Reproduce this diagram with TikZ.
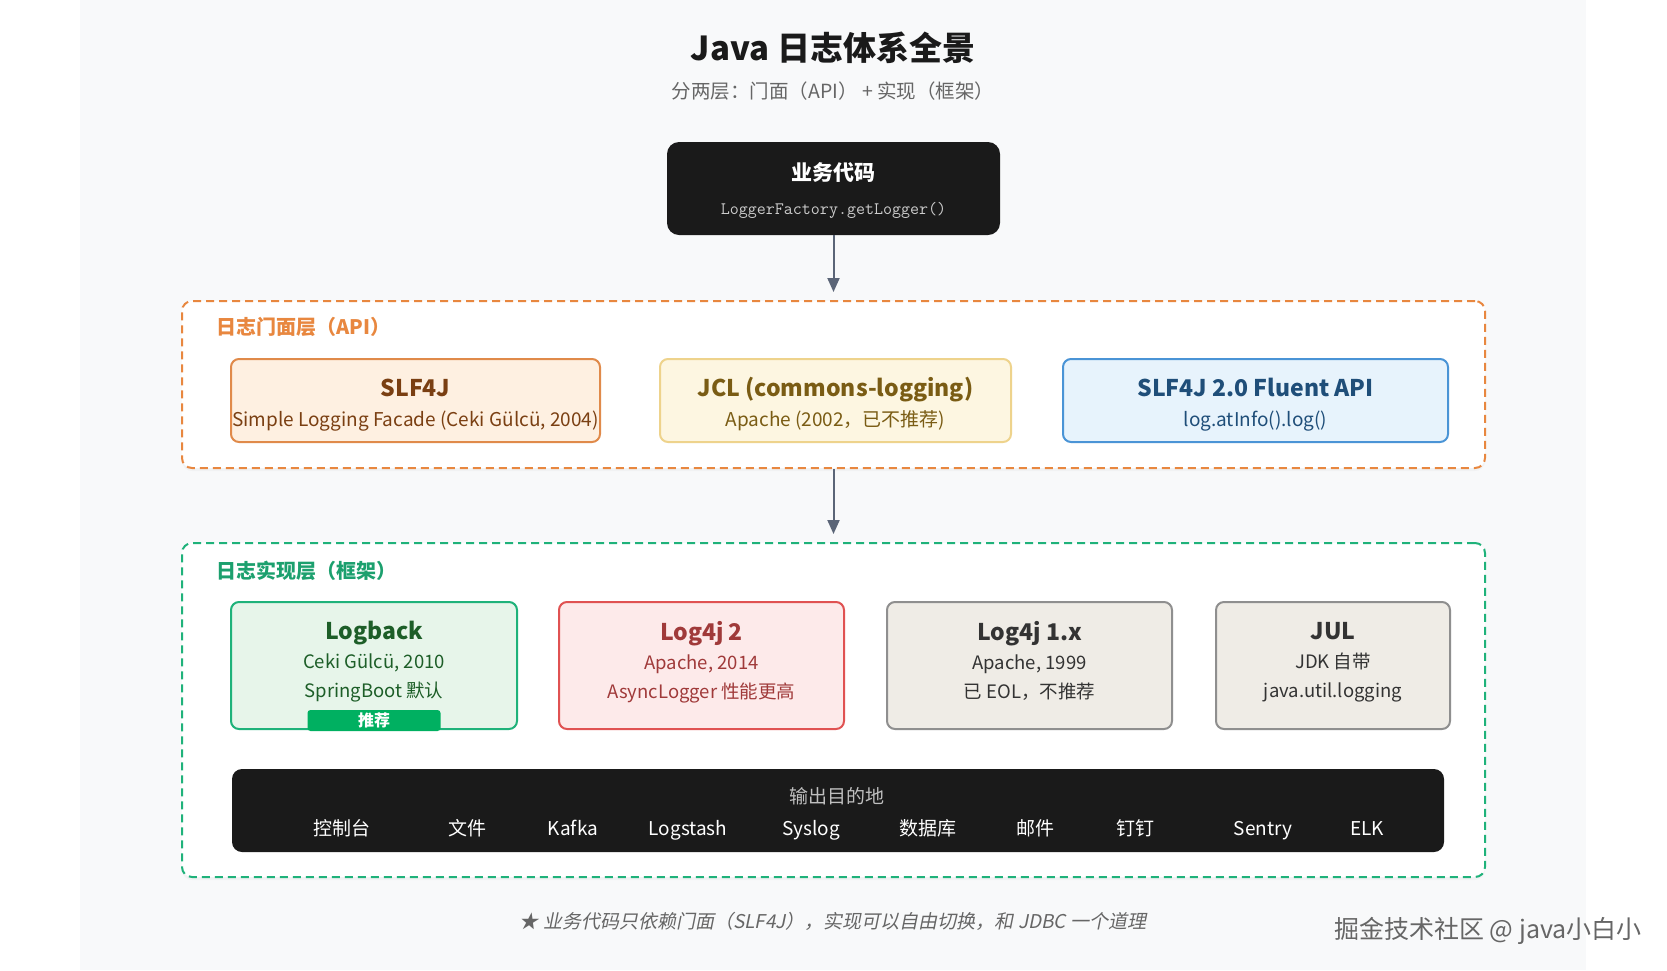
\documentclass[tikz,border=0pt]{standalone}
\usepackage{fontspec}
\setmainfont{Noto Sans CJK SC}
\newfontfamily\slantfont[FakeSlant=0.2]{Noto Sans CJK SC}
\usepackage{xcolor}
\usetikzlibrary{arrows.meta, positioning, shadows}
\definecolor{page}{HTML}{F8F9FA}
\definecolor{ink}{HTML}{1A1A1A}
\definecolor{subgray}{HTML}{666666}
\definecolor{slate}{HTML}{5B6577}
\definecolor{apiorange}{HTML}{E8873F}
\definecolor{implgreen}{HTML}{1FB27A}
\definecolor{slffill}{HTML}{FEF0E1}
\definecolor{slfdraw}{HTML}{E08A4A}
\definecolor{slftext}{HTML}{7A3F12}
\definecolor{jclfill}{HTML}{FDF6E1}
\definecolor{jcldraw}{HTML}{EED38C}
\definecolor{jcltext}{HTML}{7A5C14}
\definecolor{flufill}{HTML}{E7F3FC}
\definecolor{fludraw}{HTML}{4A94D6}
\definecolor{flutext}{HTML}{1F4E79}
\definecolor{lbfill}{HTML}{E7F5EA}
\definecolor{lbtext}{HTML}{1D5E28}
\definecolor{ltwofill}{HTML}{FDEAEA}
\definecolor{ltwodraw}{HTML}{E05252}
\definecolor{ltwotext}{HTML}{A03A3A}
\definecolor{oldfill}{HTML}{EFECE6}
\definecolor{olddraw}{HTML}{8F8F8F}
\definecolor{oldtext}{HTML}{333333}
\definecolor{badgegreen}{HTML}{00B061}
\newcommand\cardtitle{\fontsize{23}{30}\selectfont\bfseries}
\tikzset{
  layer/.style={rectangle, fill=white, rounded corners=10pt, line width=2pt, dash pattern=on 8pt off 5pt, drop shadow={opacity=0.05, shadow xshift=0pt, shadow yshift=-3pt}},
  layerlabel/.style={anchor=west, inner sep=0pt, font=\fontsize{20}{24}\selectfont\bfseries},
  card/.style={rectangle, rounded corners=8pt, line width=2pt, align=center, inner sep=0pt, font=\fontsize{19}{30}\selectfont},
  facadecard/.style={card, minimum height=83pt, text height=56pt, text depth=5pt},
  implcard/.style={card, minimum height=127pt, font=\fontsize{18.5}{29}\selectfont, text depth=12pt},
  darkbox/.style={rectangle, fill=ink, rounded corners=12pt, align=center, inner sep=0pt},
  badge/.style={rectangle, fill=badgegreen, rounded corners=3pt, text=white, inner sep=0pt, minimum width=133pt, minimum height=21pt, font=\fontsize{16}{18}\selectfont\bfseries},
  dest/.style={anchor=base, text=white, inner sep=0pt, font=\fontsize{19}{22}\selectfont},
  flow/.style={-{Triangle[length=14pt, width=12pt]}, line width=2pt, color=slate, shorten >=8pt},
}

\begin{document}
\begin{tikzpicture}[x=1pt, y=-1pt]
  \fill[white] (0,0) rectangle (1667,970);
  \fill[page] (80,0) rectangle (1586,970);
  \useasboundingbox (0,0) rectangle (1667,970);

  % heading
  \node[text=ink, font=\fontsize{33}{38}\selectfont\bfseries] (title) at (833,48) {Java 日志体系全景};
  \node[text=subgray, font=\fontsize{19.5}{22}\selectfont] (subtitle) at (833,91) {分两层：门面（API） + 实现（框架）};

  \node[darkbox, minimum width=333pt, minimum height=93pt, text depth=0pt] (biz) at (833.5,188.5)
    {{\color{white}\fontsize{21}{24}\selectfont\bfseries 业务代码}\\[18pt]{\color{white!80!black}\ttfamily\fontsize{17.5}{20}\selectfont LoggerFactory.getLogger()}};

  % facade layer
  \node[layer, draw=apiorange, minimum width=1303pt, minimum height=167pt] (api) at (833.5,384.5) {};
  \node[layerlabel, text=apiorange] (apilabel) at (216,327) {日志门面层（API）};
  \node[facadecard, fill=slffill, draw=slfdraw, text=slftext, minimum width=369pt] (slf4j) at (415.5,400.5)
    {{\cardtitle SLF4J}\\Simple Logging Facade (Ceki Gülcü, 2004)};
  \node[facadecard, fill=jclfill, draw=jcldraw, text=jcltext, minimum width=351pt, right=58pt of slf4j] (jcl)
    {{\cardtitle JCL (commons-logging)}\\Apache (2002，已不推荐)};
  \node[facadecard, fill=flufill, draw=fludraw, text=flutext, minimum width=385pt, right=50pt of jcl] (fluent)
    {{\cardtitle SLF4J 2.0 Fluent API}\\log.atInfo().log()};

  % implementation layer
  \node[layer, draw=implgreen, minimum width=1303pt, minimum height=334pt] (impl) at (833.5,710) {};
  \node[layerlabel, text=implgreen!90!black] (impllabel) at (216,571) {日志实现层（框架）};
  \node[implcard, fill=lbfill, draw=implgreen, text=lbtext, minimum width=286pt] (logback) at (374,665.5)
    {{\cardtitle Logback}\\Ceki Gülcü, 2010\\SpringBoot 默认};
  \node[implcard, fill=ltwofill, draw=ltwodraw, text=ltwotext, minimum width=285pt, right=40pt of logback] (logtwo)
    {{\cardtitle Log4j 2}\\Apache, 2014\\AsyncLogger 性能更高};
  \node[implcard, fill=oldfill, draw=olddraw, text=oldtext, minimum width=285pt, right=41pt of logtwo] (logone)
    {{\cardtitle Log4j 1.x}\\Apache, 1999\\已 EOL，不推荐};
  \node[implcard, fill=oldfill, draw=olddraw, text=oldtext, minimum width=234pt, right=42pt of logone] (jul)
    {{\cardtitle JUL}\\JDK 自带\\java.util.logging};
  \node[badge] (rec) at (374,720.5) {推荐};

  % output targets
  \node[darkbox, rounded corners=10pt, minimum width=1212pt, minimum height=83pt] (sink) at (838,810.5) {};
  \node[dest, text=white!75!black] (sinklabel) at (837,803) {输出目的地};
  \node[dest] (console) at (342,835) {控制台};
  \node[dest] (file) at (467,835) {文件};
  \node[dest] (kafka) at (573,835) {Kafka};
  \node[dest] (logstash) at (688,835) {Logstash};
  \node[dest] (syslog) at (811,835) {Syslog};
  \node[dest] (db) at (928,835) {数据库};
  \node[dest] (mail) at (1035,835) {邮件};
  \node[dest] (ding) at (1135,835) {钉钉};
  \node[dest] (sentry) at (1263,835) {Sentry};
  \node[dest] (elk) at (1367,835) {ELK};

  \draw[flow] (biz) -- (api);
  \draw[flow] (api) -- (impl);

  % footer
  \node[text=subgray, font=\fontsize{19}{22}\selectfont\slantfont] (note) at (833,921)
    {★ 业务代码只依赖门面（SLF4J），实现可以自由切换，和 JDBC 一个道理};
  \node[text=subgray, font=\fontsize{25}{28}\selectfont] (watermark) at (1488,931) {掘金技术社区 @ java小白小};
\end{tikzpicture}
\end{document}
